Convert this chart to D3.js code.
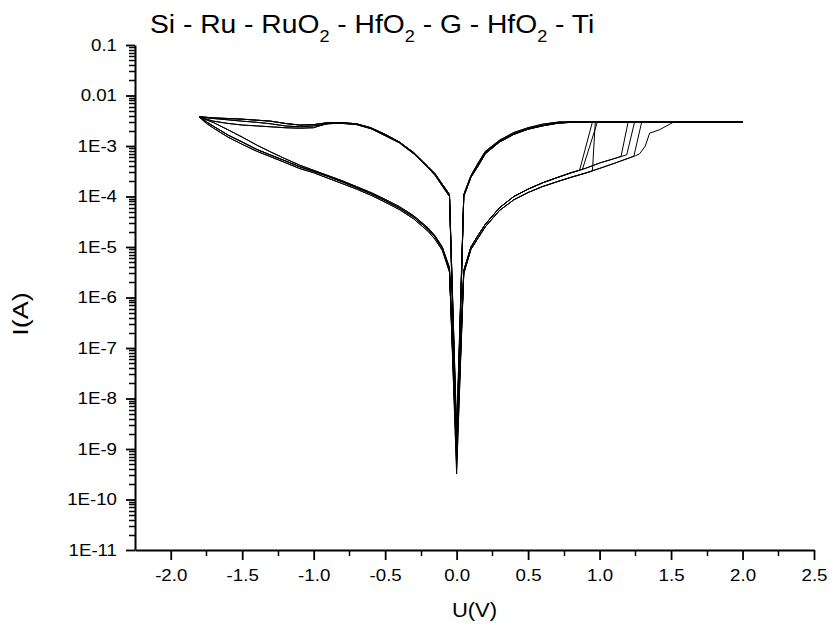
<!DOCTYPE html>
<html>
<head>
<meta charset="utf-8">
<script src="https://cdn.jsdelivr.net/npm/d3@7"></script>
<style>
  body { margin: 0; background: #fff; }
  text { font-family: "Liberation Sans", Arial, sans-serif; fill: #000; }
</style>
</head>
<body>
<div id="chart"></div>
<script>
// I-V sweeps, [U (V), I (A)]
// negative side, LRS branch swept 0 -> -1.8 V
const negLrsA = [[-0.05,1.1e-4],[-0.1,1.75e-4],[-0.15,2.8e-4],[-0.2,3.9e-4],[-0.3,7.4e-4],[-0.4,1.2e-3],[-0.5,1.7e-3],[-0.6,2.3e-3],[-0.7,2.75e-3],[-0.8,2.9e-3],[-0.9,2.9e-3],[-1.0,2.65e-3],[-1.1,2.6e-3],[-1.2,2.8e-3],[-1.3,3.1e-3],[-1.4,3.25e-3],[-1.5,3.4e-3],[-1.6,3.5e-3],[-1.7,3.6e-3],[-1.8,3.8e-3]];
const negLrsB = [[-0.05,1.0e-4],[-0.1,1.6e-4],[-0.15,2.6e-4],[-0.2,3.7e-4],[-0.3,7.0e-4],[-0.4,1.15e-3],[-0.5,1.6e-3],[-0.6,2.2e-3],[-0.7,2.65e-3],[-0.8,2.8e-3],[-0.9,2.8e-3],[-0.95,2.55e-3],[-1.0,2.3e-3],[-1.1,2.25e-3],[-1.2,2.3e-3],[-1.3,2.4e-3],[-1.4,2.5e-3],[-1.5,2.6e-3],[-1.6,2.8e-3],[-1.7,3.1e-3],[-1.8,3.7e-3]];
const negLrsC = [[-0.05,1.05e-4],[-0.1,1.7e-4],[-0.15,2.7e-4],[-0.2,3.8e-4],[-0.3,7.2e-4],[-0.4,1.18e-3],[-0.5,1.65e-3],[-0.6,2.25e-3],[-0.7,2.7e-3],[-0.8,2.85e-3],[-0.9,2.75e-3],[-1.0,2.5e-3],[-1.1,2.4e-3],[-1.2,2.5e-3],[-1.3,2.75e-3],[-1.4,2.95e-3],[-1.5,3.1e-3],[-1.6,3.3e-3],[-1.7,3.5e-3],[-1.8,3.75e-3]];

// negative side, HRS branch swept -1.8 -> 0 V
const negHrsA = [[-1.75,3.0e-3],[-1.7,2.45e-3],[-1.6,1.65e-3],[-1.5,1.2e-3],[-1.4,8.6e-4],[-1.3,6.6e-4],[-1.2,5.1e-4],[-1.1,3.9e-4],[-1.0,3.15e-4],[-0.9,2.5e-4],[-0.8,1.95e-4],[-0.7,1.5e-4],[-0.6,1.14e-4],[-0.5,8.3e-5],[-0.4,5.9e-5],[-0.3,3.9e-5],[-0.2,2.25e-5],[-0.15,1.55e-5],[-0.1,9.5e-6],[-0.05,3.6e-6]];
const negHrsB = [[-1.75,3.3e-3],[-1.7,2.9e-3],[-1.6,2.1e-3],[-1.5,1.5e-3],[-1.4,1.05e-3],[-1.3,7.6e-4],[-1.2,5.6e-4],[-1.1,4.2e-4],[-1.0,3.3e-4],[-0.9,2.6e-4],[-0.8,2.05e-4],[-0.7,1.57e-4],[-0.6,1.2e-4],[-0.5,8.8e-5],[-0.4,6.3e-5],[-0.3,4.15e-5],[-0.2,2.4e-5],[-0.15,1.65e-5],[-0.1,1.0e-5],[-0.05,3.9e-6]];
const negHrsC = [[-1.75,2.8e-3],[-1.7,2.25e-3],[-1.6,1.5e-3],[-1.5,1.08e-3],[-1.4,7.9e-4],[-1.3,6.1e-4],[-1.2,4.7e-4],[-1.1,3.6e-4],[-1.0,2.95e-4],[-0.9,2.3e-4],[-0.8,1.8e-4],[-0.7,1.4e-4],[-0.6,1.06e-4],[-0.5,7.7e-5],[-0.4,5.5e-5],[-0.3,3.6e-5],[-0.2,2.05e-5],[-0.15,1.4e-5],[-0.1,8.6e-6],[-0.05,3.2e-6]];

// positive side, HRS branch swept 0 -> set
const posHrsA = [[0.05,3.4e-6],[0.1,1.0e-5],[0.15,1.7e-5],[0.2,2.8e-5],[0.3,6.0e-5],[0.4,1.0e-4],[0.5,1.4e-4],[0.6,1.86e-4],[0.7,2.35e-4],[0.8,2.95e-4],[0.9,3.6e-4],[1.0,4.6e-4],[1.1,5.6e-4],[1.2,6.8e-4]];
const posHrsB = [[0.05,3.0e-6],[0.1,9.0e-6],[0.15,1.5e-5],[0.2,2.5e-5],[0.3,5.3e-5],[0.4,8.6e-5],[0.5,1.2e-4],[0.6,1.57e-4],[0.7,1.95e-4],[0.8,2.4e-4],[0.9,2.9e-4],[1.0,3.6e-4],[1.1,4.5e-4],[1.2,5.7e-4],[1.25,6.4e-4]];

// set jumps up to the 3 mA compliance
const set1 = [[0.86,3.3e-4],[0.95,3e-3]];
const set2 = [[0.88,3.45e-4],[0.985,3e-3]];
const set3 = [[0.95,3.2e-4],[0.97,3e-3]];
const set4 = [[1.15,6.2e-4],[1.2,3e-3]];
const set5 = [[1.19,6.7e-4],[1.245,3e-3]];
const set6 = [[1.24,6.3e-4],[1.295,3e-3]];
const set7 = [[1.28,7.0e-4],[1.32,1.0e-3],[1.35,1.8e-3],[1.42,2.1e-3],[1.52,3e-3]];

// positive side, LRS branch swept 2.0 -> 0 V
const posLrsA = [[2.0,3e-3],[0.88,3e-3],[0.8,2.95e-3],[0.7,2.8e-3],[0.6,2.5e-3],[0.5,2.15e-3],[0.4,1.7e-3],[0.3,1.2e-3],[0.2,7.0e-4],[0.15,4.0e-4],[0.1,2.4e-4],[0.05,1.0e-4]];
const posLrsB = [[2.0,3e-3],[0.8,3e-3],[0.7,2.85e-3],[0.6,2.55e-3],[0.5,2.2e-3],[0.4,1.75e-3],[0.3,1.25e-3],[0.2,7.4e-4],[0.15,4.3e-4],[0.1,2.5e-4],[0.05,1.05e-4]];
const posLrsC = [[2.0,3e-3],[0.72,3e-3],[0.6,2.7e-3],[0.5,2.3e-3],[0.4,1.85e-3],[0.3,1.3e-3],[0.2,7.8e-4],[0.15,4.6e-4],[0.1,2.6e-4],[0.05,1.1e-4]];

// current read at 0 V each time a sweep crosses it
const zeroCurrents = [2.1e-9, 6e-10, 1.4e-9, 3.2e-10, 9e-10, 1.8e-9, 5e-10, 1.1e-9, 2.5e-9, 7e-10, 1.3e-9, 4e-10, 1.6e-9, 8e-10, 1.2e-9];

// which branches each cycle runs through
const cycleNegLrs = [negLrsA, negLrsB, negLrsC, negLrsA, negLrsC, negLrsB, negLrsA];
const cycleNegHrs = [negHrsA, negHrsB, negHrsC, negHrsB, negHrsA, negHrsC, negHrsA];
const cyclePosHrs = [posHrsA, posHrsA, posHrsB, posHrsA, posHrsA, posHrsB, posHrsB];
const cycleSet = [set1, set2, set3, set4, set5, set6, set7];
const cyclePosLrs = [posLrsA, posLrsB, posLrsC, posLrsA, posLrsB, posLrsC, posLrsA];

const xTicks = [-2.0, -1.5, -1.0, -0.5, 0.0, 0.5, 1.0, 1.5, 2.0, 2.5];
const xMinorTicks = [-1.75, -1.25, -0.75, -0.25, 0.25, 0.75, 1.25, 1.75, 2.25];
const yTicks = [1e-1, 1e-2, 1e-3, 1e-4, 1e-5, 1e-6, 1e-7, 1e-8, 1e-9, 1e-10, 1e-11];
const yTickLabels = ['0.1', '0.01', '1E-3', '1E-4', '1E-5', '1E-6', '1E-7', '1E-8', '1E-9', '1E-10', '1E-11'];

const titleParts = [['Si - Ru - RuO', false], ['2', true], [' - HfO', false], ['2', true], [' - G - HfO', false], ['2', true], [' - Ti', false]];

// layout
let width = 832, height = 629,
    margin = { top: 45, left: 135, right: 18, bottom: 79 };

let svg = d3.select('#chart')
    .append('svg')
    .attr('width', width)
    .attr('height', height);

let x = d3.scaleLinear()
    .domain([-2.25, 2.5])
    .range([margin.left, width - margin.right]);

let y = d3.scaleLog()
    .domain([1e-11, 0.1])
    .range([height - margin.bottom, margin.top]);

// curves
let line = d3.line()
    .x(d => x(d[0]))
    .y(d => y(d[1]));

let cycles = cycleSet.map(function(set, k) {
  let hrs = cyclePosHrs[k].filter(d => d[0] < set[0][0]);
  return [[0, zeroCurrents[2 * k]]]
    .concat(cycleNegLrs[k], cycleNegHrs[k])
    .concat([[0, zeroCurrents[2 * k + 1]]])
    .concat(hrs, set, cyclePosLrs[k])
    .concat([[0, zeroCurrents[2 * k + 2]]]);
});

svg.append('g')
  .attr('class', 'curves')
  .selectAll('path')
  .data(cycles)
  .enter().append('path')
    .attr('d', line)
    .attr('fill', 'none')
    .attr('stroke', '#000')
    .attr('stroke-width', 1)
    .attr('stroke-linejoin', 'round');

// x axis
let xAxis = svg.append('g')
    .attr('transform', 'translate(0,' + y(1e-11) + ')')
    .call(d3.axisBottom(x)
      .tickValues(xTicks)
      .tickSize(10)
      .tickSizeOuter(0)
      .tickPadding(9)
      .tickFormat(d => d.toFixed(1)));

// y axis
let yAxis = svg.append('g')
    .attr('transform', 'translate(' + x(-2.25) + ',0)')
    .call(d3.axisLeft(y)
      .tickValues(yTicks)
      .tickSize(9)
      .tickSizeOuter(0)
      .tickPadding(9)
      .tickFormat((d, i) => yTickLabels[i]));

[xAxis, yAxis].forEach(function(a) {
  a.select('.domain').attr('stroke-width', 2);
  a.selectAll('.tick line').attr('stroke-width', 1.8);
  a.selectAll('.tick text')
    .style('font-family', '"Liberation Sans", Arial, sans-serif')
    .style('font-size', '17px');
});

// the lettering in the picture is a little wide, stretch it sideways
xAxis.selectAll('.tick text').attr('transform', 'scale(1.1,1)');
yAxis.selectAll('.tick text').attr('transform', 'scale(1.1,1)')
    .attr('x', -18 / 1.1);

// minor ticks, each axis as one path
let yMinor = [];
for (let e = -11; e < -1; e++) {
  for (let m = 2; m <= 9; m++) yMinor.push(m * Math.pow(10, e));
}

let x0 = x(-2.25), y0 = y(1e-11);
let minorX = d3.path();
xMinorTicks.forEach(function(v) {
  minorX.moveTo(Math.round(x(v)) + 0.5, y0);
  minorX.lineTo(Math.round(x(v)) + 0.5, y0 + 6);
});
let minorY = d3.path();
yMinor.forEach(function(v) {
  minorY.moveTo(x0 - 6, Math.round(y(v)) + 0.5);
  minorY.lineTo(x0, Math.round(y(v)) + 0.5);
});

svg.append('path')
  .attr('d', minorX.toString() + minorY.toString())
  .attr('fill', 'none')
  .attr('stroke', '#000')
  .attr('stroke-width', 1.5);

// axis titles
svg.append('text')
  .attr('transform', 'translate(' + (x(-2.25) + x(2.5)) / 2 + ',617) scale(1.1,1)')
  .attr('text-anchor', 'middle')
  .style('font-size', '20px')
  .text('U(V)');

svg.append('text')
  .attr('transform', 'translate(28,314) rotate(-90) scale(1,0.85)')
  .attr('text-anchor', 'middle')
  .style('font-size', '27px')
  .text('I(A)');

// title with subscripts
let title = svg.append('text')
  .attr('transform', 'translate(150,33) scale(1.13,1)')
  .style('font-size', '25px');

titleParts.forEach(function(p, i) {
  let prevSub = i > 0 && titleParts[i - 1][1];
  title.append('tspan')
    .attr('dy', p[1] ? 9 : (prevSub ? -9 : 0))
    .style('font-size', p[1] ? '16px' : '25px')
    .text(p[0]);
});
</script>
</body>
</html>
